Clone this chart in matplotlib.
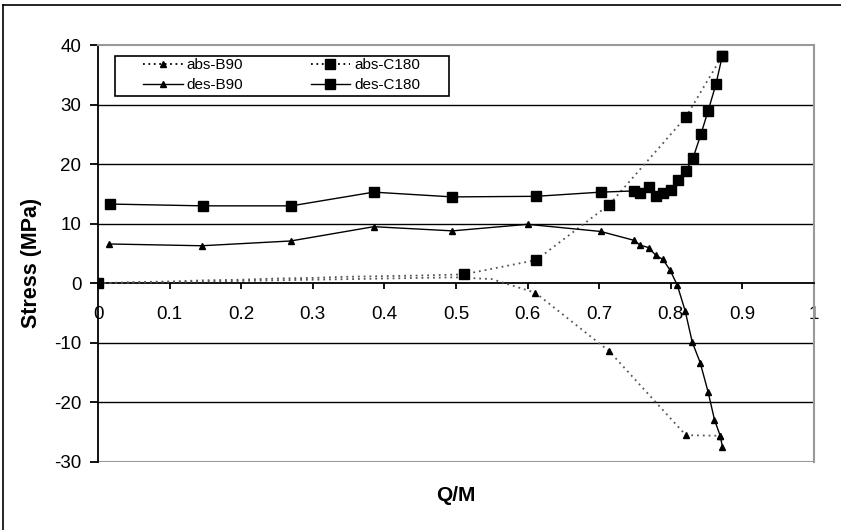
import matplotlib
matplotlib.use("Agg")
import matplotlib.pyplot as plt
from matplotlib.lines import Line2D
from matplotlib.patches import Rectangle

plt.rcParams['font.family'] = ['Liberation Sans', 'DejaVu Sans']
plt.rcParams['axes.unicode_minus'] = False

# ---- data ----
abs_b90_x = [0.0, 0.05, 0.10, 0.15, 0.20, 0.25, 0.30, 0.35, 0.40, 0.45, 0.50, 0.55, 0.611, 0.714, 0.821, 0.869]
abs_b90_y = [0.0, 0.1, 0.2, 0.3, 0.4, 0.5, 0.6, 0.7, 0.8, 0.9, 1.0, 0.7, -1.6, -11.4, -25.5, -25.6]
abs_b90_mark = [12, 13, 14, 15]

abs_c180_x = [0.0, 0.05, 0.10, 0.15, 0.20, 0.25, 0.30, 0.35, 0.40, 0.45, 0.511, 0.612, 0.714, 0.821, 0.872]
abs_c180_y = [0.0, 0.2, 0.3, 0.5, 0.6, 0.8, 0.9, 1.1, 1.2, 1.3, 1.5, 3.9, 13.2, 27.9, 38.2]
abs_c180_mark = [0, 10, 11, 12, 13, 14]

des_b90_x = [0.015, 0.145, 0.269, 0.385, 0.495, 0.600, 0.702, 0.749, 0.757, 0.769, 0.779, 0.789,
             0.799, 0.809, 0.820, 0.830, 0.841, 0.852, 0.861, 0.869, 0.872]
des_b90_y = [6.6, 6.3, 7.1, 9.5, 8.8, 9.9, 8.7, 7.2, 6.4, 6.0, 4.7, 4.0,
             2.2, -0.3, -4.6, -9.9, -13.3, -18.2, -22.9, -25.6, -27.4]

des_c180_x = [0.017, 0.146, 0.270, 0.385, 0.495, 0.612, 0.702, 0.748, 0.757, 0.769, 0.779, 0.789,
              0.800, 0.810, 0.821, 0.831, 0.842, 0.852, 0.863, 0.872]
des_c180_y = [13.3, 13.0, 13.0, 15.3, 14.5, 14.6, 15.3, 15.5, 15.2, 16.2, 14.7, 15.1,
              15.6, 17.3, 18.8, 21.0, 25.0, 28.9, 33.4, 38.2]

series_labels = ['abs-B90', 'abs-C180', 'des-B90', 'des-C180']

x_ticks = [0, 0.1, 0.2, 0.3, 0.4, 0.5, 0.6, 0.7, 0.8, 0.9, 1]
x_tick_labels = ['0', '0.1', '0.2', '0.3', '0.4', '0.5', '0.6', '0.7', '0.8', '0.9', '1']
y_ticks = [-30, -20, -10, 0, 10, 20, 30, 40]

fig = plt.figure(figsize=(8.41, 5.30), dpi=100)
ax = fig.add_axes([98 / 841, 68 / 530, 716 / 841, 417 / 530])

ax.set_xlim(0, 1)
ax.set_ylim(-30, 40)

# grid lines
for g in [30, 20, 10, -10, -20]:
    ax.axhline(g, color='black', lw=1.0, zorder=1)
ax.axhline(-30, color='#999999', lw=1.5, zorder=1)

dot = (0, (1, 2.2))
ax.plot(abs_b90_x, abs_b90_y, color='#555555', ls=dot, lw=1.3,
        marker='^', ms=4.5, mfc='black', mec='black', markevery=abs_b90_mark, zorder=3)
ax.plot(abs_c180_x, abs_c180_y, color='#555555', ls=dot, lw=1.3,
        marker='s', ms=7.5, mfc='black', mec='black', markevery=abs_c180_mark, zorder=3)
ax.plot(des_b90_x, des_b90_y, color='black', ls='-', lw=1.0,
        marker='^', ms=4.5, mfc='black', mec='black', zorder=4)
ax.plot(des_c180_x, des_c180_y, color='black', ls='-', lw=1.0,
        marker='s', ms=7.5, mfc='black', mec='black', zorder=4)

# spines
ax.spines['bottom'].set_position(('data', 0))
ax.spines['bottom'].set_color('black')
ax.spines['bottom'].set_linewidth(1.3)
ax.spines['left'].set_color('black')
ax.spines['left'].set_linewidth(1.3)
ax.spines['top'].set_color('#999999')
ax.spines['top'].set_linewidth(1.5)
ax.spines['right'].set_color('#999999')
ax.spines['right'].set_linewidth(1.5)

ax.set_xticks(x_ticks)
ax.set_xticklabels(x_tick_labels)
ax.set_yticks(y_ticks)
ax.tick_params(axis='x', direction='out', length=4.5, width=1.3, labelsize=13.5, pad=12)
ax.tick_params(axis='y', direction='out', length=6, width=1.3, labelsize=13.5, pad=6)

ax.set_xlabel('Q/M', fontsize=15, fontweight='bold')
ax.xaxis.set_label_coords(0.5, -0.058)
ax.set_ylabel('Stress (MPa)', fontsize=15.5, fontweight='bold')
ax.yaxis.set_label_coords(-0.078, 0.477)

# legend (column-major order so rows read abs / des)
h_abs_b90 = Line2D([], [], color='black', ls=(0, (1, 2)), lw=1.3, marker='^', ms=4.5)
h_abs_c180 = Line2D([], [], color='black', ls=(0, (1, 2)), lw=1.3, marker='s', ms=7.5)
h_des_b90 = Line2D([], [], color='black', ls='-', lw=1.0, marker='^', ms=4.5)
h_des_c180 = Line2D([], [], color='black', ls='-', lw=1.0, marker='s', ms=7.5)
handles = [h_abs_b90, h_des_b90, h_abs_c180, h_des_c180]
labels = [series_labels[0], series_labels[2], series_labels[1], series_labels[3]]
leg = ax.legend(handles, labels, ncol=2, loc='upper left',
                bbox_to_anchor=(0.0628, 0.968), frameon=False, fontsize=11,
                handlelength=2.6, columnspacing=4.4, borderpad=0, labelspacing=0.37,
                handletextpad=0.26, borderaxespad=0)
ax.add_patch(Rectangle((0.0237, 0.878), 0.4663, 0.096, transform=ax.transAxes,
                       fill=True, facecolor='white', edgecolor='black', lw=1.2, zorder=5))
leg.set_zorder(6)

# outer border (left and top)
fig.add_artist(Line2D([3 / 841, 3 / 841], [0, 1 - 5 / 530], transform=fig.transFigure,
                      color='black', lw=1.2))
fig.add_artist(Line2D([3 / 841, 1], [1 - 5 / 530, 1 - 5 / 530], transform=fig.transFigure,
                      color='black', lw=1.2))

fig.savefig('out.png', dpi=100)
